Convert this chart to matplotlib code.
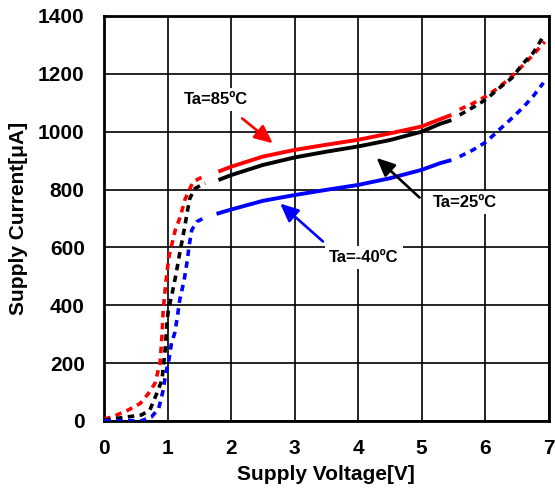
import numpy as np
import matplotlib
matplotlib.use("Agg")
import matplotlib.pyplot as plt

plt.rcParams['font.family'] = ['Liberation Sans', 'DejaVu Sans']
plt.rcParams['font.weight'] = 'bold'

# ── Data (V in volts, I in uA) ──────────────────────────────────────────────
red_v = [0.0, 0.17, 0.38, 0.57, 0.70, 0.80, 0.88, 0.91, 0.93, 0.97, 1.02, 1.12,
         1.20, 1.27, 1.33, 1.40, 1.56, 1.80, 2.0, 2.5, 3.0, 3.5, 4.0, 4.5, 5.0,
         5.29, 5.47, 5.60, 5.81, 6.02, 6.20, 6.39, 6.60, 6.78, 6.94]
red_i = [6, 18, 38, 61, 96, 130, 200, 291, 384, 476, 568, 660,
         706, 764, 793, 827, 845, 862, 879, 914, 937, 955, 972, 994, 1018,
         1043, 1058, 1077, 1098, 1123, 1150, 1185, 1230, 1271, 1311]

blk_v = [0.0, 0.2, 0.4, 0.59, 0.72, 0.83, 0.91, 0.96, 0.99, 1.01, 1.06, 1.13,
         1.18, 1.27, 1.30, 1.35, 1.43, 1.59, 1.80, 2.0, 2.5, 3.0, 3.5, 4.0, 4.5,
         5.0, 5.29, 5.47, 5.60, 5.81, 6.02, 6.20, 6.42, 6.60, 6.76, 6.90]
blk_i = [3, 9, 15, 21, 38, 96, 142, 245, 338, 384, 430, 505,
         568, 672, 712, 770, 804, 822, 833, 850, 885, 911, 931, 949, 971,
         1000, 1027, 1040, 1058, 1084, 1112, 1147, 1185, 1236, 1273, 1323]

blu_v = [0.0, 0.46, 0.59, 0.75, 0.86, 0.93, 0.97, 1.02, 1.06, 1.11, 1.15, 1.19,
         1.26, 1.31, 1.34, 1.38, 1.46, 1.61, 1.77, 2.0, 2.5, 3.0, 3.5, 4.0, 4.5,
         5.0, 5.29, 5.47, 5.60, 5.81, 6.02, 6.20, 6.39, 6.60, 6.76, 6.92]
blu_i = [1, 1, 1, 15, 44, 107, 165, 211, 269, 303, 355, 418,
         487, 556, 608, 660, 689, 706, 716, 731, 761, 781, 799, 816, 839,
         868, 891, 902, 914, 937, 965, 1002, 1040, 1084, 1123, 1169]

# measured (solid) window for each curve
solid_lo = {'red': 1.80, 'black': 1.80, 'blue': 1.77}
solid_hi = 5.47

x_ticks = [0, 1, 2, 3, 4, 5, 6, 7]
y_ticks = [0, 200, 400, 600, 800, 1000, 1200, 1400]

fig = plt.figure(figsize=(5.55, 4.95), dpi=100)
ax = fig.add_axes([0.1877, 0.1495, 0.8006, 0.8182])

for v, i, c in [(red_v, red_i, 'red'), (blk_v, blk_i, 'black'), (blu_v, blu_i, 'blue')]:
    v = np.array(v); i = np.array(i)
    lo = solid_lo[c]
    m_low = v <= lo - 0.02
    m_mid = (v >= lo) & (v <= solid_hi)
    m_high = v >= solid_hi + 0.1
    dotted = dict(color=c, lw=2.6, linestyle=(0, (1.8, 1.5)),
                  dash_capstyle='butt', zorder=3)
    ax.plot(v[m_low], i[m_low], **dotted)
    ax.plot(v[m_high], i[m_high], **dotted)
    ax.plot(v[m_mid], i[m_mid], color=c, lw=2.8, solid_capstyle='butt', zorder=3)

ax.set_xlim(0, 7)
ax.set_ylim(0, 1400)
ax.set_xticks(x_ticks)
ax.set_yticks(y_ticks)
ax.grid(True, color='black', lw=1.2, zorder=1)
ax.set_axisbelow(True)
ax.tick_params(length=0, labelsize=15)
ax.tick_params(axis='x', pad=13)
ax.tick_params(axis='y', pad=14)
for s in ax.spines.values():
    s.set_linewidth(2)

ax.set_xlabel('Supply Voltage[V]', fontsize=15, fontweight='bold', labelpad=5)
ax.set_ylabel('Supply Current[μA]', fontsize=15, fontweight='bold', labelpad=7)

box = dict(facecolor='white', edgecolor='none', pad=3)
ax.text(1.76, 1112, 'Ta=85ºC', fontsize=12, fontweight='bold',
        ha='center', va='center', bbox=box, zorder=4)
ax.text(5.69, 755, 'Ta=25ºC', fontsize=12, fontweight='bold',
        ha='center', va='center', bbox=box, zorder=4)
ax.text(4.09, 566, 'Ta=-40ºC', fontsize=12, fontweight='bold',
        ha='center', va='center', bbox=box, zorder=4)

arrow = dict(arrowstyle='-|>,head_length=1.1,head_width=0.5', lw=1.9)
ax.annotate('', xy=(2.69, 954), xytext=(2.14, 1052),
            arrowprops=dict(color='red', **arrow), zorder=5)
ax.annotate('', xy=(4.26, 916), xytext=(5.0, 766),
            arrowprops=dict(color='black', **arrow), zorder=5)
ax.annotate('', xy=(2.74, 758), xytext=(3.48, 614),
            arrowprops=dict(color='blue', **arrow), zorder=5)

fig.savefig('out.png', dpi=100)
